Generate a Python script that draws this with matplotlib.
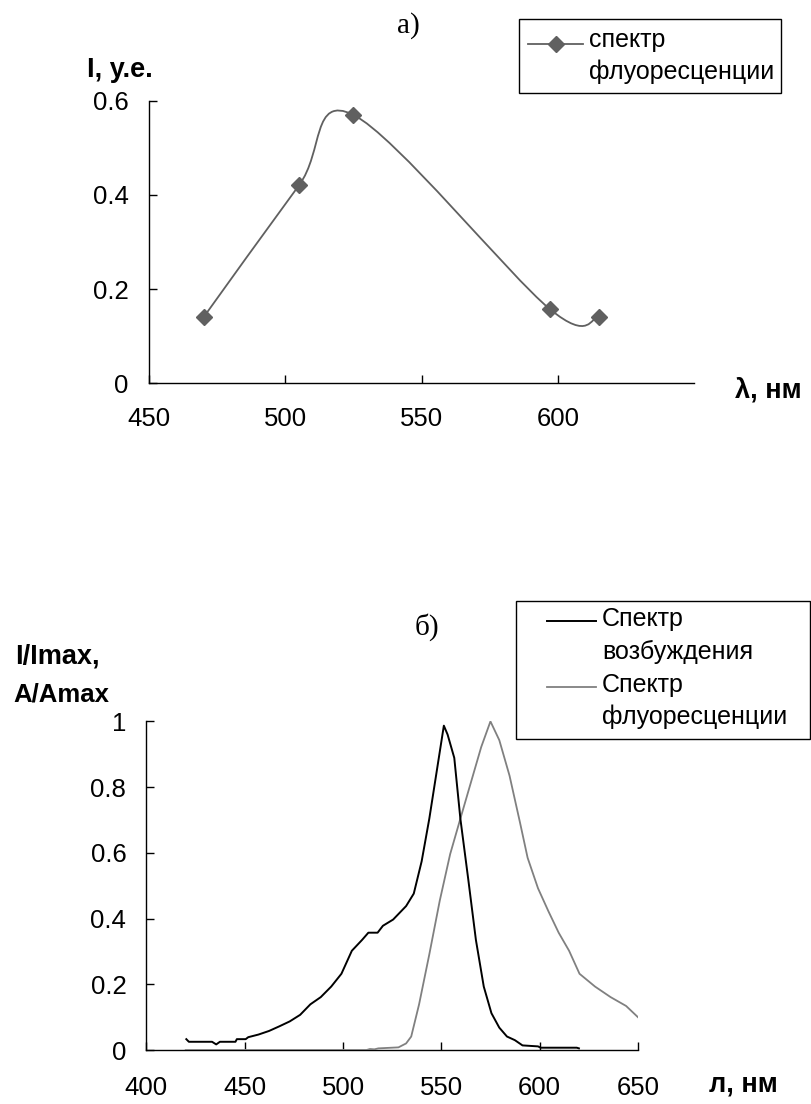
import matplotlib
matplotlib.use("Agg")
import matplotlib.pyplot as plt
import numpy as np
from matplotlib.path import Path
from matplotlib.patches import PathPatch, Rectangle
from matplotlib.lines import Line2D

plt.rcParams["font.family"] = ["Liberation Sans", "DejaVu Sans"]

# --- data: panel a) fluorescence spectrum (Excel-style smoothed line)
wl_a = [470, 505, 525, 597, 615]
int_a = [0.14, 0.42, 0.57, 0.158, 0.14]

# --- data: panel b) excitation spectrum (black)
wl_exc = [420.3, 421.6, 433.4, 435.5, 437.4, 445.3, 446.0, 450.5, 451.8, 457.0,
          462.4, 467.6, 472.9, 478.2, 483.4, 488.7, 494.0, 499.2, 504.5, 509.7,
          512.9, 517.6, 520.3, 525.5, 532.1, 536.0, 540.0, 543.9, 547.9, 551.3,
          553.2, 556.6, 559.7, 563.7, 567.6, 571.6, 575.5, 579.5, 583.4, 587.4,
          591.3, 599.2, 600.5, 618.9, 620.0]
val_exc = [0.033, 0.025, 0.025, 0.017, 0.025, 0.025, 0.033, 0.033, 0.039, 0.047,
           0.058, 0.072, 0.087, 0.107, 0.139, 0.161, 0.193, 0.232, 0.302, 0.335,
           0.357, 0.357, 0.378, 0.397, 0.438, 0.476, 0.574, 0.704, 0.857, 0.987,
           0.960, 0.889, 0.704, 0.520, 0.335, 0.193, 0.112, 0.068, 0.041, 0.030,
           0.014, 0.011, 0.007, 0.007, 0.005]

# --- data: panel b) fluorescence spectrum (gray)
wl_em = [420.0, 512.0, 513.7, 516.0, 518.0, 528.2, 532.1, 534.7, 538.7, 543.9,
         549.2, 554.5, 559.7, 565.0, 570.3, 575.0, 579.5, 584.7, 590.0, 593.9,
         599.2, 604.5, 609.7, 615.0, 620.3, 628.2, 636.1, 644.0, 650.0]
val_em = [0.0, 0.0, 0.003, 0.002, 0.005, 0.008, 0.02, 0.041, 0.139, 0.291,
          0.454, 0.596, 0.704, 0.813, 0.922, 1.0, 0.943, 0.835, 0.693, 0.585,
          0.492, 0.422, 0.357, 0.302, 0.232, 0.193, 0.161, 0.134, 0.100]

W, H = 811, 1104
fig = plt.figure(figsize=(W / 100, H / 100), dpi=100)


def px_box(l, t, r, b):
    return [l / W, 1 - b / H, (r - l) / W, (b - t) / H]


def fx(px):
    return px / W


def fy(py):
    return 1 - py / H


def style_axes(ax, xpad, fs=18.5):
    for s in ["top", "right"]:
        ax.spines[s].set_visible(False)
    for s in ["left", "bottom"]:
        ax.spines[s].set_color("black")
        ax.spines[s].set_linewidth(1.0)
    ax.tick_params(axis="both", direction="in", length=5.5, width=1.0,
                   labelsize=fs, colors="black")
    ax.tick_params(axis="y", pad=14.5)
    ax.tick_params(axis="x", pad=xpad)


gray_a = "#606060"
bold_fs = 19.5

# ---------------- panel a)
ax1 = fig.add_axes(px_box(149, 100.7, 694, 383.3))
ax1.set_xlim(450, 650)
ax1.set_ylim(0, 0.6)
ax1.set_xticks([450, 500, 550, 600])
ax1.set_xticklabels(["450", "500", "550", "600"])
ax1.set_yticks([0, 0.2, 0.4, 0.6])
ax1.set_yticklabels(["0", "0.2", "0.4", "0.6"])
style_axes(ax1, xpad=17)

# smoothed curve through the points (cubic Bezier, Catmull-Rom control points)
pts = np.column_stack([wl_a, int_a])
verts = [tuple(pts[0])]
codes = [Path.MOVETO]
n = len(pts)
for i in range(n - 1):
    p0 = pts[i - 1] if i > 0 else pts[i]
    p1, p2 = pts[i], pts[i + 1]
    p3 = pts[i + 2] if i + 2 < n else pts[i + 1]
    c1 = p1 + (p2 - p0) / 6.0
    c2 = p2 - (p3 - p1) / 6.0
    verts += [tuple(c1), tuple(c2), tuple(p2)]
    codes += [Path.CURVE4] * 3
ax1.add_patch(PathPatch(Path(verts, codes), facecolor="none",
                        edgecolor=gray_a, lw=1.3, zorder=3))
ax1.plot(wl_a, int_a, linestyle="none", marker="D", markersize=8,
         color=gray_a, zorder=4, clip_on=False)

fig.text(fx(408), fy(26), "а)", family=["Liberation Serif", "DejaVu Serif"],
         fontsize=21, ha="center", va="center")
fig.text(fx(87), fy(70), "I, у.е.", fontsize=bold_fs, fontweight="bold",
         ha="left", va="center")
fig.text(fx(735), fy(390), "λ, нм", fontsize=bold_fs, fontweight="bold",
         ha="left", va="center")

# legend a)
fig.add_artist(Rectangle((fx(519), fy(93)), (781 - 519) / W, (93 - 19) / H,
                         transform=fig.transFigure, fill=False,
                         edgecolor="black", lw=1.0))
fig.add_artist(Line2D([fx(528), fx(583)], [fy(44), fy(44)],
                      transform=fig.transFigure, color=gray_a, lw=1.3))
fig.add_artist(Line2D([fx(555.5)], [fy(44)], transform=fig.transFigure,
                      linestyle="none", marker="D", markersize=8, color=gray_a))
fig.text(fx(589), fy(47), "спектр", fontsize=18, ha="left", va="baseline")
fig.text(fx(589), fy(79), "флуоресценции", fontsize=18, ha="left",
         va="baseline")

# ---------------- panel b)
ax2 = fig.add_axes(px_box(146.4, 721.4, 637.9, 1050))
ax2.set_xlim(400, 650)
ax2.set_ylim(0, 1)
ax2.set_xticks([400, 450, 500, 550, 600, 650])
ax2.set_yticks([0, 0.2, 0.4, 0.6, 0.8, 1.0])
ax2.set_yticklabels(["0", "0.2", "0.4", "0.6", "0.8", "1"])
style_axes(ax2, xpad=18.5)

ax2.plot(wl_em, val_em, color="#808080", lw=1.3, zorder=3)
ax2.plot(wl_exc, val_exc, color="black", lw=1.4, zorder=4)

fig.text(fx(427), fy(627), "б)", family=["Liberation Serif", "DejaVu Serif"],
         fontsize=21, ha="center", va="center")
fig.text(fx(15), fy(656), "I/Imax,", fontsize=bold_fs, fontweight="bold",
         ha="left", va="center")
fig.text(fx(13), fy(694), "A/Amax", fontsize=18.5, fontweight="bold",
         ha="left", va="center")
fig.text(fx(709), fy(1084), "л, нм", fontsize=bold_fs, fontweight="bold",
         ha="left", va="center")

# legend b)
fig.add_artist(Rectangle((fx(516), fy(739)), (810 - 516) / W, (739 - 601) / H,
                         transform=fig.transFigure, fill=False,
                         edgecolor="black", lw=1.0))
fig.add_artist(Line2D([fx(547), fx(596)], [fy(621), fy(621)],
                      transform=fig.transFigure, color="black", lw=1.4))
fig.add_artist(Line2D([fx(547), fx(596)], [fy(687), fy(687)],
                      transform=fig.transFigure, color="#808080", lw=1.3))
fig.text(fx(602), fy(626), "Спектр", fontsize=18, ha="left", va="baseline")
fig.text(fx(602), fy(659), "возбуждения", fontsize=18, ha="left",
         va="baseline")
fig.text(fx(602), fy(692), "Спектр", fontsize=18, ha="left", va="baseline")
fig.text(fx(602), fy(724), "флуоресценции", fontsize=18, ha="left",
         va="baseline")

fig.savefig("out.png", dpi=100)
